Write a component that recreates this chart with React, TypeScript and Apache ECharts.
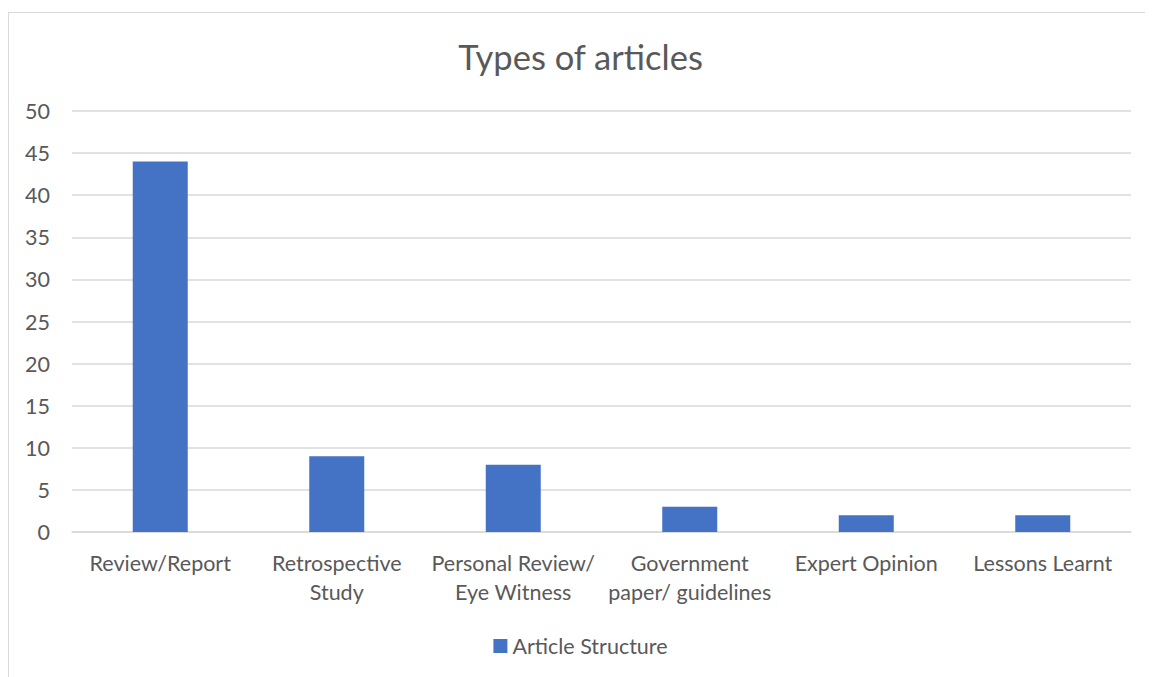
import React, { useEffect, useRef } from "react";
import * as echarts from "echarts";

const categories = [
  "Review/Report",
  "Retrospective\nStudy",
  "Personal Review/\nEye Witness",
  "Government\npaper/ guidelines",
  "Expert Opinion",
  "Lessons Learnt",
];
const values = [44, 9, 8, 3, 2, 2];
const seriesName = "Article Structure";
const titleText = "Types of articles";

const FONT = "Lato, 'Noto Sans', sans-serif";
const W = 1145;
const H = 669;

export default function App() {
  const ref = useRef<HTMLDivElement>(null);
  useEffect(() => {
    if (!ref.current) return;
    const chart = echarts.init(ref.current, null, { renderer: "svg" });
    chart.setOption({
      animation: false,
      backgroundColor: "#ffffff",
      title: {
        text: titleText,
        left: "center",
        top: 26,
        textStyle: { color: "#595959", fontSize: 34.5, fontWeight: "normal", fontFamily: FONT },
      },
      legend: {
        bottom: 15,
        left: "center",
        itemWidth: 14,
        itemHeight: 14,
        itemGap: 6,
        icon: "rect",
        textStyle: { color: "#595959", fontSize: 21.5, fontFamily: FONT },
        data: [seriesName],
      },
      grid: { left: 64, right: 22, top: 103, bottom: 145, containLabel: false },
      xAxis: {
        type: "category",
        data: categories,
        axisLine: { show: true, lineStyle: { color: "#d9d9d9", width: 1.5 } },
        axisTick: { show: false },
        axisLabel: {
          color: "#595959",
          fontSize: 21.5,
          fontFamily: FONT,
          margin: 16,
          lineHeight: 29,
          interval: 0,
        },
      },
      yAxis: {
        type: "value",
        min: 0,
        max: 50,
        interval: 5,
        axisLine: { show: false },
        axisTick: { show: false },
        splitLine: { lineStyle: { color: "#d9d9d9", width: 1.5 } },
        axisLabel: { color: "#595959", fontSize: 21.5, fontFamily: FONT, margin: 22 },
      },
      series: [
        {
          name: seriesName,
          type: "bar",
          data: values,
          barWidth: 55,
          itemStyle: { color: "#4472C4" },
        },
      ],
      graphic: [
        {
          type: "line",
          shape: { x1: 0.5, y1: 4, x2: 0.5, y2: H },
          style: { stroke: "#d9d9d9", lineWidth: 1 },
        },
        {
          type: "line",
          shape: { x1: 0, y1: 4.5, x2: W, y2: 4.5 },
          style: { stroke: "#d9d9d9", lineWidth: 1 },
        },
      ],
    });
    return () => chart.dispose();
  }, []);
  return <div ref={ref} style={{ width: W, height: H }} />;
}
